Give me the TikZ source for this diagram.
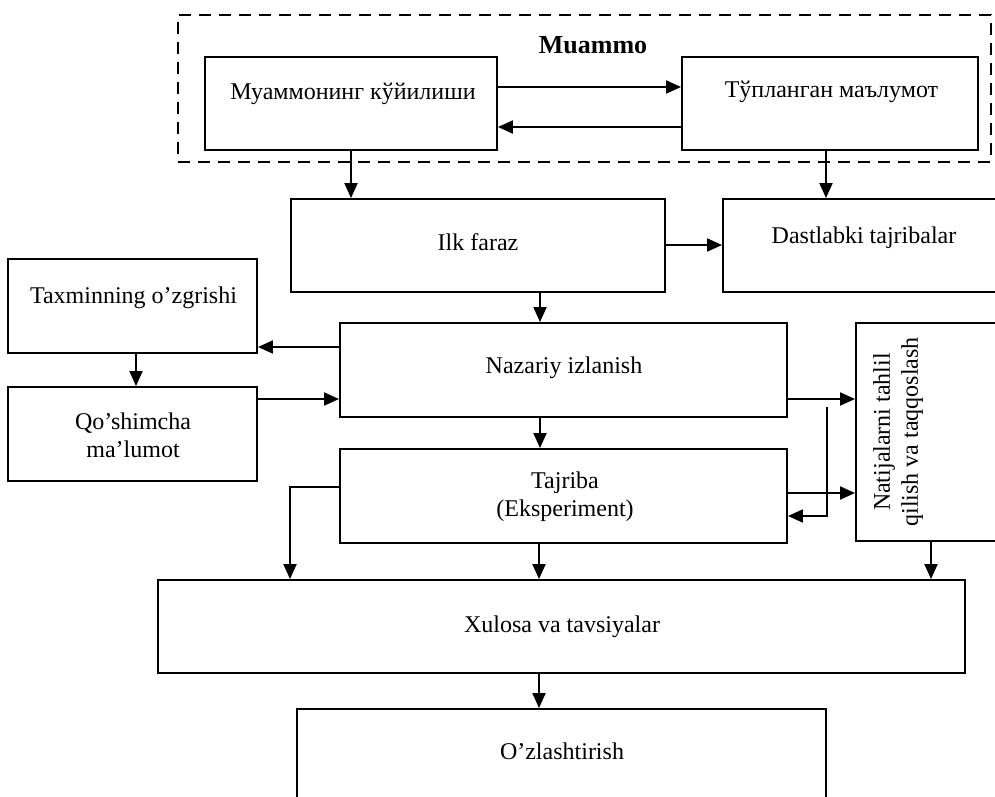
\documentclass[tikz,border=0pt]{standalone}
\usepackage{fontspec}
\setmainfont{Liberation Serif}
\usetikzlibrary{arrows.meta}
\begin{document}
\begin{tikzpicture}[x=1pt,y=-1pt,
  lw/.style={line width=1.9pt},
  box/.style={draw, lw, inner sep=0pt},
  dashframe/.style={draw, lw, dash pattern=on 12pt off 8pt, inner sep=0pt},
  txt/.style={font=\fontsize{24}{28}\selectfont, inner sep=0pt, anchor=base},
  mtxt/.style={font=\fontsize{24}{28}\selectfont, inner sep=0pt, align=center},
  arr/.style={lw, -{Triangle[length=15pt,width=13pt]}}]
\useasboundingbox (0,0) rectangle (995,796);
\clip (0,0) rectangle (995,796);

% problem stage (dashed group)
\node[dashframe, minimum width=813pt, minimum height=147pt] (grp) at (584.5,88.5) {};
\node[txt, font=\fontsize{26}{30}\selectfont\bfseries] (grpt) at (593,53) {Muammo};

% boxes
\node[box, minimum width=292pt, minimum height=93pt] (m1) at (351,103.5) {};
\node[box, minimum width=296pt, minimum height=93pt] (m2) at (830,103.5) {};
\node[box, minimum width=374pt, minimum height=93pt] (ilk) at (478,245.5) {};
\node[box, minimum width=290pt, minimum height=93pt] (dast) at (868,245.5) {};
\node[box, minimum width=249pt, minimum height=94pt] (tax) at (132.5,306) {};
\node[box, minimum width=249pt, minimum height=94pt] (qos) at (132.5,434) {};
\node[box, minimum width=447pt, minimum height=94pt] (naz) at (563.5,370) {};
\node[box, minimum width=447pt, minimum height=94pt] (taj) at (563.5,496) {};
\node[box, minimum width=160pt, minimum height=218pt] (nat) at (936,432) {};
\node[box, minimum width=807pt, minimum height=93pt] (xul) at (561.5,626.5) {};
\node[box, minimum width=529pt, minimum height=110pt] (ozl) at (561.5,764) {};

% labels
\node[txt] (m1t) at (353,99) {Муаммонинг кўйилиши};
\node[txt] (m2t) at (831.5,97) {Тўпланган маълумот};
\node[txt] (ilkt) at (478,250) {Ilk faraz};
\node[txt] (dastt) at (864,243) {Dastlabki tajribalar};
\node[txt] (taxt) at (133.5,303) {Taxminning o’zgrishi};
\node[mtxt] (qost) at (133,435) {Qo’shimcha\\ma’lumot};
\node[txt] (nazt) at (564,373) {Nazariy izlanish};
\node[mtxt] (tajt) at (565,497) {Tajriba\\(Eksperiment)};
\node[mtxt, rotate=90] (natt) at (898,432) {Natijalarni tahlil\\qilish va taqqoslash};
\node[txt] (xult) at (562,632) {Xulosa va tavsiyalar};
\node[txt] (ozlt) at (562,759) {O’zlashtirish};

% connectors
\draw[arr] ([yshift=16.5pt]m1.east) -- ([yshift=16.5pt]m1.east -| m2.west);
\draw[arr] ([yshift=-23.5pt]m2.west) -- ([yshift=-23.5pt]m2.west -| m1.east);
\draw[arr] (m1.south) -- (m1.south |- ilk.north);
\coordinate (m2b) at ([xshift=-4pt]m2.south);
\draw[arr] (m2b) -- (m2b |- dast.north);
\coordinate (ilke) at ([yshift=0.5pt]ilk.east);
\draw[arr] (ilke) -- (ilke -| dast.west);
\coordinate (ilkb) at ([xshift=62pt]ilk.south);
\draw[arr] (ilkb) -- (ilkb |- naz.north);
\coordinate (nazw) at ([yshift=23pt]naz.west);
\draw[arr] (nazw) -- (nazw -| tax.east);
\coordinate (taxb) at ([xshift=3.5pt]tax.south);
\draw[arr] (taxb) -- (taxb |- qos.north);
\coordinate (qose) at ([yshift=35pt]qos.east);
\draw[arr] (qose) -- (qose -| naz.west);
\coordinate (nazb) at ([xshift=-23.5pt]naz.south);
\draw[arr] (nazb) -- (nazb |- taj.north);
\coordinate (tajw) at ([yshift=9pt]taj.west);
\coordinate (xulin) at ([xshift=-271.5pt]xul.north);
\draw[arr] (tajw) -| (xulin);
\coordinate (naze) at ([yshift=-29pt]naz.east);
\draw[arr] (naze) -- (naze -| nat.west);
\coordinate (taje) at ([yshift=3pt]taj.east);
\draw[arr] (taje) -- (taje -| nat.west);
\coordinate (fb) at (827,407);
\draw[arr] (fb) |- ([yshift=-20pt]taj.east);
\coordinate (natb) at (931,541);
\draw[arr] (natb) -- (natb |- xul.north);
\coordinate (tajb) at ([xshift=-24.5pt]taj.south);
\draw[arr] (tajb) -- (tajb |- xul.north);
\coordinate (xulb) at ([xshift=-22.5pt]xul.south);
\draw[arr] (xulb) -- (xulb |- ozl.north);
\end{tikzpicture}
\end{document}
